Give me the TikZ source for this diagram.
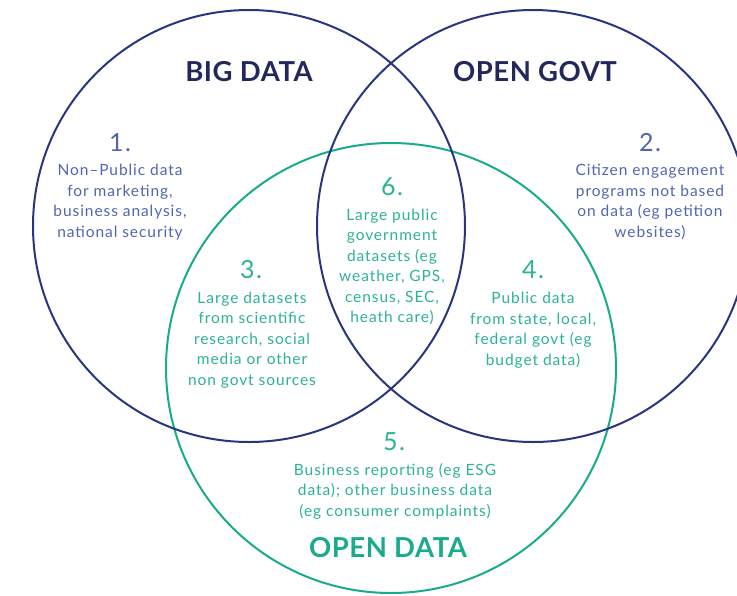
\documentclass[tikz,border=0pt]{standalone}
\usepackage{fontspec}
\setmainfont{Lato}
\newfontfamily\bodyfont{Lato}[LetterSpace=6]
\newfontfamily\titlefont{Lato}[LetterSpace=2]
\definecolor{NavyLine}{RGB}{40,54,128}
\definecolor{NavyTitle}{RGB}{35,40,90}
\definecolor{BlueText}{RGB}{82,102,172}
\definecolor{GreenLine}{RGB}{26,170,140}
\definecolor{GreenText}{RGB}{44,178,148}

\begin{document}
\begin{tikzpicture}[x=1pt,y=-1pt,
        title/.style={font=\titlefont\bfseries\fontsize{27.5}{30}\selectfont},
        num/.style={font=\bodyfont\fontsize{25}{28}\selectfont},
        body/.style={align=center,font=\bodyfont\fontsize{15.5}{20.5}\selectfont,inner sep=0pt}]
            \useasboundingbox (0,0) rectangle (737,595);

            \draw[line width=2pt,color=GreenLine] (391,368) circle[radius=225pt];
            \draw[line width=2pt,color=NavyLine] (249,226) circle[radius=216pt];
            \draw[line width=2pt,color=NavyLine] (533,226) circle[radius=216pt];

            \node[title,color=NavyTitle] (bigdata) at (249,72) {BIG DATA};
            \node[title,color=NavyTitle] (opengovt) at (535,72) {OPEN GOVT};
            \node[title,color=GreenLine] (opendata) at (388,548) {OPEN DATA};

            \node[num,color=BlueText] (num1) at (120,143) {1.};
            \node[body,color=BlueText] (text1) at (120,202) {Non–Public data\\for marketing,\\business analysis,\\national security};

            \node[num,color=BlueText] (num2) at (650,143) {2.};
            \node[body,color=BlueText] (text2) at (650,202) {Citizen engagement\\programs not based\\on data (eg petition\\websites)};

            \node[num,color=GreenText] (num3) at (251,270) {3.};
            \node[body,color=GreenText] (text3) at (252,340) {Large datasets\\from scientific\\research, social\\media or other\\non govt sources};

            \node[num,color=GreenText] (num4) at (533,270) {4.};
            \node[body,color=GreenText] (text4) at (533,330) {Public data\\from state, local,\\federal govt (eg\\budget data)};

            \node[num,color=GreenText] (num5) at (394,442) {5.};
            \node[body,color=GreenText] (text5) at (395,491) {Business reporting (eg ESG\\data); other business data\\(eg consumer complaints)};

            \node[num,color=GreenText] (num6) at (392,187) {6.};
            \node[body,color=GreenText] (text6) at (392,267) {Large public\\government\\datasets (eg\\weather, GPS,\\census, SEC,\\heath care)};
        \end{tikzpicture}
\end{document}
